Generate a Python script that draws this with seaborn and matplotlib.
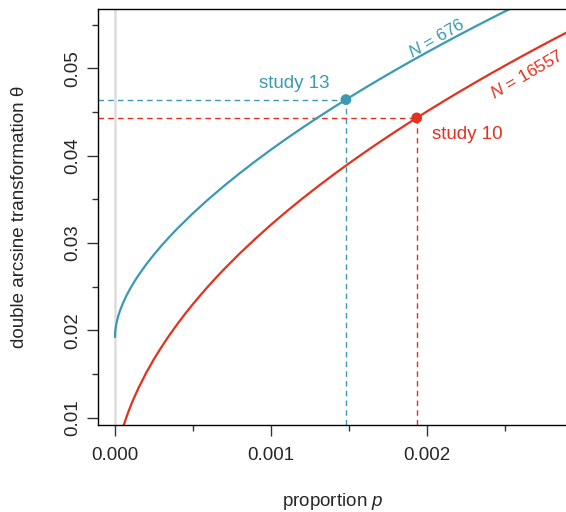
import matplotlib
matplotlib.use("Agg")
import matplotlib.pyplot as plt
import seaborn as sns
import pandas as pd

# ---- data ----
p_676 = [0.0, 0.0000005, 0.000003, 0.00001, 0.00002, 0.00003, 0.00005, 0.000075,
         0.0001, 0.000125, 0.00015, 0.0002, 0.00025, 0.0003, 0.00035, 0.0004,
         0.0005, 0.0006, 0.0007, 0.0008, 0.0009, 0.001, 0.0011, 0.0012, 0.0013,
         0.0014, 0.0015, 0.0016, 0.0017, 0.0018, 0.0019, 0.002, 0.0021, 0.0022,
         0.0023, 0.0024, 0.0025, 0.0026]
theta_676 = [0.01922, 0.019577, 0.020106, 0.020866, 0.021586, 0.022152, 0.023077,
             0.02403, 0.024857, 0.025603, 0.026292, 0.027546, 0.028683, 0.029736,
             0.030724, 0.031659, 0.033408, 0.035031, 0.036554, 0.037996, 0.039372,
             0.040691, 0.04196, 0.043184, 0.044371, 0.045521, 0.04664, 0.04773,
             0.048794, 0.049831, 0.050846, 0.05184, 0.052814, 0.053769, 0.054705,
             0.055626, 0.05653, 0.057421]

p_16557 = [0.00005, 0.00006, 0.00008, 0.0001, 0.00012, 0.00015, 0.0002, 0.00025,
           0.0003, 0.00035, 0.0004, 0.00045, 0.0005, 0.00055, 0.0006, 0.00065,
           0.0007, 0.0008, 0.0009, 0.001, 0.0011, 0.0012, 0.0013, 0.0014, 0.0015,
           0.0016, 0.0017, 0.0018, 0.0019, 0.002, 0.0021, 0.0022, 0.0023, 0.0024,
           0.0025, 0.0026, 0.0027, 0.0028, 0.0029]
theta_16557 = [0.008789, 0.009359, 0.010397, 0.011332, 0.012193, 0.013376, 0.015139,
               0.016715, 0.018152, 0.019484, 0.020728, 0.021905, 0.023019, 0.024081,
               0.025099, 0.026077, 0.02702, 0.028812, 0.0305, 0.032099, 0.033622,
               0.035079, 0.036478, 0.037825, 0.039126, 0.040385, 0.041606, 0.042792,
               0.043947, 0.045072, 0.046169, 0.047241, 0.048289, 0.049316, 0.050321,
               0.051307, 0.052274, 0.053224, 0.054157]

study_labels = ["study 13", "study 10"]
study_p = [0.0014793, 0.0019327]
study_theta = [0.046411, 0.044317]
n_labels = ["676", "16557"]

x_major = [0.0, 0.001, 0.002]
x_major_labels = ["0.000", "0.001", "0.002"]
x_minor = [0.0005, 0.0015, 0.0025]
y_major = [0.01, 0.02, 0.03, 0.04, 0.05]
y_major_labels = ["0.01", "0.02", "0.03", "0.04", "0.05"]
y_minor = [0.015, 0.025, 0.035, 0.045, 0.055]

BLUE = "#3A9AB2"
RED = "#E2321F"

sns.set_style("white")
plt.rcParams["font.family"] = ["Liberation Sans", "DejaVu Sans"]
plt.rcParams["mathtext.fontset"] = "custom"
plt.rcParams["mathtext.it"] = "Liberation Sans:italic"
plt.rcParams["mathtext.rm"] = "Liberation Sans"

fig = plt.figure(figsize=(5.66, 5.12), dpi=100)
ax = fig.add_axes([97.5 / 566, 87 / 512, (568 - 97.5) / 566, (425 - 9.3) / 512])

ax.axvline(0, color="#DDDDDD", lw=1.8, zorder=0)

df1 = pd.DataFrame({"p": p_676, "theta": theta_676})
df2 = pd.DataFrame({"p": p_16557, "theta": theta_16557})
sns.lineplot(data=df1, x="p", y="theta", color=BLUE, lw=1.6, ax=ax, sort=True)
sns.lineplot(data=df2, x="p", y="theta", color=RED, lw=1.6, ax=ax, sort=True)

xmin, xmax = -0.0001121, 0.002902
ymin, ymax = 0.00916, 0.05675
ax.set_xlim(xmin, xmax)
ax.set_ylim(ymin, ymax)

# dashed guides
for c, px, ty in zip([BLUE, RED], study_p, study_theta):
    ax.plot([xmin, px], [ty, ty], color=c, lw=1.0, ls=(0, (4, 3)), zorder=1)
    ax.plot([px, px], [ymin, ty], color=c, lw=1.0, ls=(0, (4, 3)), zorder=1)

sns.scatterplot(x=study_p, y=study_theta, hue=study_labels,
                palette=[BLUE, RED], s=60, edgecolor="none", legend=False,
                ax=ax, zorder=5)

ax.text(0.00115, 0.0483, study_labels[0], color=BLUE, fontsize=13.5,
        ha="center", va="center")
ax.text(0.00226, 0.0424, study_labels[1], color=RED, fontsize=13.5,
        ha="center", va="center")
ax.text(0.00206, 0.0534, r"$N$ = " + n_labels[0], color=BLUE, fontsize=12.5,
        ha="center", va="center", rotation=30, rotation_mode="anchor")
ax.text(0.002635, 0.0493, r"$N$ = " + n_labels[1], color=RED, fontsize=12.5,
        ha="center", va="center", rotation=30, rotation_mode="anchor")

ax.set_xticks(x_major)
ax.set_xticklabels(x_major_labels, fontsize=13.5)
ax.set_xticks(x_minor, minor=True)
ax.set_yticks(y_major)
ax.set_yticklabels(y_major_labels, fontsize=13.5, rotation=90, va="center")
ax.set_yticks(y_minor, minor=True)
ax.tick_params(which="major", length=8, width=1.0, color="#333333", pad=8,
               direction="out", bottom=True, left=True)
ax.tick_params(which="minor", length=4, width=1.0, color="#333333",
               direction="out", bottom=True, left=True)
ax.tick_params(axis="y", which="major", pad=4)

for s in ["left", "bottom", "top"]:
    ax.spines[s].set_visible(True)
    ax.spines[s].set_color("black")
    ax.spines[s].set_linewidth(1.0)
ax.spines["right"].set_visible(False)

ax.set_xlabel("proportion $p$", fontsize=13.5, labelpad=19.5)
ax.set_ylabel("double arcsine transformation θ", fontsize=13.5, labelpad=26)

fig.savefig("out.png", dpi=100)
